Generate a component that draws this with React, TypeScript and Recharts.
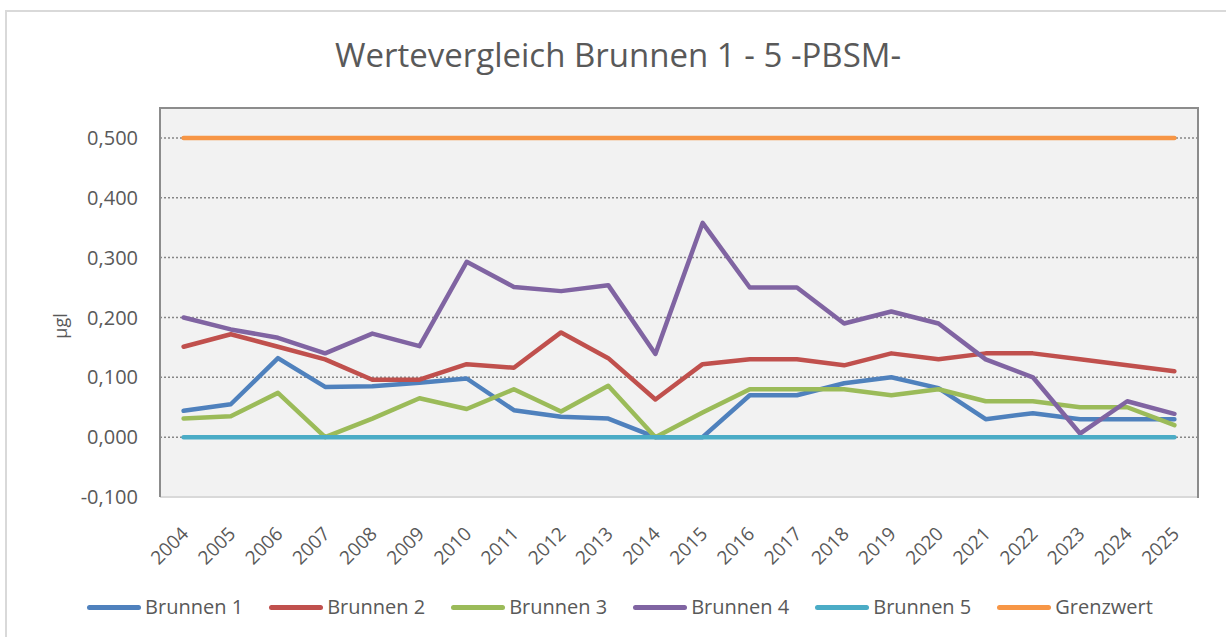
import React from 'react';
import { LineChart, Line, XAxis, YAxis, CartesianGrid } from 'recharts';

const years = ['2004', '2005', '2006', '2007', '2008', '2009', '2010', '2011', '2012', '2013', '2014',
  '2015', '2016', '2017', '2018', '2019', '2020', '2021', '2022', '2023', '2024', '2025'];

const brunnen1 = [0.044, 0.055, 0.132, 0.084, 0.085, 0.091, 0.098, 0.045, 0.034, 0.031, 0, 0, 0.07, 0.07, 0.09, 0.1, 0.082, 0.03, 0.04, 0.03, 0.03, 0.03];
const brunnen2 = [0.151, 0.172, 0.151, 0.13, 0.096, 0.096, 0.122, 0.116, 0.175, 0.132, 0.063, 0.122, 0.13, 0.13, 0.12, 0.14, 0.13, 0.14, 0.14, 0.13, 0.12, 0.11];
const brunnen3 = [0.031, 0.035, 0.074, 0, 0.031, 0.065, 0.047, 0.08, 0.043, 0.086, 0, 0.041, 0.08, 0.08, 0.08, 0.07, 0.08, 0.06, 0.06, 0.05, 0.05, 0.02];
const brunnen4 = [0.2, 0.18, 0.166, 0.14, 0.173, 0.152, 0.293, 0.251, 0.244, 0.254, 0.139, 0.358, 0.25, 0.25, 0.19, 0.21, 0.19, 0.13, 0.1, 0.006, 0.06, 0.039];
const brunnen5 = [0, 0, 0, 0, 0, 0, 0, 0, 0, 0, 0, 0, 0, 0, 0, 0, 0, 0, 0, 0, 0, 0];
const grenzwert = [0.5, 0.5, 0.5, 0.5, 0.5, 0.5, 0.5, 0.5, 0.5, 0.5, 0.5, 0.5, 0.5, 0.5, 0.5, 0.5, 0.5, 0.5, 0.5, 0.5, 0.5, 0.5];

const yTicks = [-0.1, 0, 0.1, 0.2, 0.3, 0.4, 0.5];

const series = [
  { key: 'b1', name: 'Brunnen 1', color: '#4F81BD', values: brunnen1 },
  { key: 'b2', name: 'Brunnen 2', color: '#C0504D', values: brunnen2 },
  { key: 'b3', name: 'Brunnen 3', color: '#9BBB59', values: brunnen3 },
  { key: 'b4', name: 'Brunnen 4', color: '#8064A2', values: brunnen4 },
  { key: 'b5', name: 'Brunnen 5', color: '#4BACC6', values: brunnen5 },
  { key: 'gw', name: 'Grenzwert', color: '#F79646', values: grenzwert },
];

const data = years.map((year, i) => {
  const row: any = { year };
  series.forEach((s) => { row[s.key] = s.values[i]; });
  return row;
});

const font = '"Open Sans", sans-serif';
const textColor = '#595959';

const fmt = (v: number) => v.toFixed(3).replace('.', ',');

const YearTick = ({ x, y, payload }: any) => (
  <text
    x={x + 6}
    y={y + 30}
    textAnchor='end'
    transform={`rotate(-45, ${x + 6}, ${y + 30})`}
    fill={textColor}
    fontSize={19}
    fontFamily={font}
  >
    {payload.value}
  </text>
);

const App = () => {
  return (
    <div style={{ position: 'relative', width: 1226, height: 637, overflow: 'hidden', background: '#fff' }}>
      <style>{'body{margin:0}'}</style>
      <div style={{ position: 'absolute', left: 5, top: 10, width: 1240, height: 660, borderTop: '2px solid #d9d9d9', borderLeft: '2px solid #d9d9d9' }} />
      <div style={{ position: 'absolute', top: 38, left: 0, width: 1236, textAlign: 'center', fontFamily: font, fontSize: 33, lineHeight: 1, color: textColor }}>
        Wertevergleich Brunnen 1 - 5 -PBSM-
      </div>
      <div style={{ position: 'absolute', left: 60, top: 326, transform: 'translate(-50%, -50%) rotate(-90deg)', fontFamily: font, fontSize: 18, lineHeight: 1, color: textColor }}>
        µgl
      </div>
      <div style={{ position: 'absolute', left: 0 }}>
        <LineChart width={1226} height={637} data={data} margin={{ top: 108, right: 28, bottom: 0, left: 0 }}>
          <CartesianGrid fill='#F2F2F2' vertical={false} horizontalValues={yTicks} stroke='#868686' strokeDasharray='2 2' strokeWidth={1.5} />
          <XAxis
            dataKey='year'
            height={140}
            padding={{ left: 23.6, right: 23.6 }}
            interval={0}
            tick={<YearTick />}
            tickLine={false}
            axisLine={{ stroke: '#d9d9d9', strokeWidth: 2 }}
          />
          <YAxis
            width={160}
            domain={[-0.1, 0.55]}
            ticks={yTicks}
            tickFormatter={fmt}
            tickLine={false}
            tickSize={0}
            tickMargin={22}
            axisLine={{ stroke: '#8c8c8c', strokeWidth: 2 }}
            tick={{ fill: textColor, fontSize: 20, fontFamily: font }}
          />
          {series.map((s) => (
            <Line
              key={s.key}
              dataKey={s.key}
              name={s.name}
              stroke={s.color}
              strokeWidth={4.5}
              strokeLinecap='round'
              strokeLinejoin='round'
              dot={false}
              activeDot={false}
              isAnimationActive={false}
            />
          ))}
        </LineChart>
      </div>
      {/* plot frame: top and right edges */}
      <div style={{ position: 'absolute', left: 159, top: 107, width: 1038, height: 389, borderTop: '2px solid #8c8c8c', borderRight: '2px solid #8c8c8c', pointerEvents: 'none' }} />
      <div style={{ position: 'absolute', top: 597, left: 0, width: 1240, display: 'flex', justifyContent: 'center', gap: 26, fontFamily: font, fontSize: 20, lineHeight: 1, color: textColor }}>
        {series.map((s) => (
          <div key={s.key} style={{ display: 'flex', alignItems: 'center' }}>
            <span style={{ display: 'inline-block', width: 54, height: 5, borderRadius: 3, background: s.color, marginRight: 4 }} />
            <span>{s.name}</span>
          </div>
        ))}
      </div>
    </div>
  );
};

export default App;
